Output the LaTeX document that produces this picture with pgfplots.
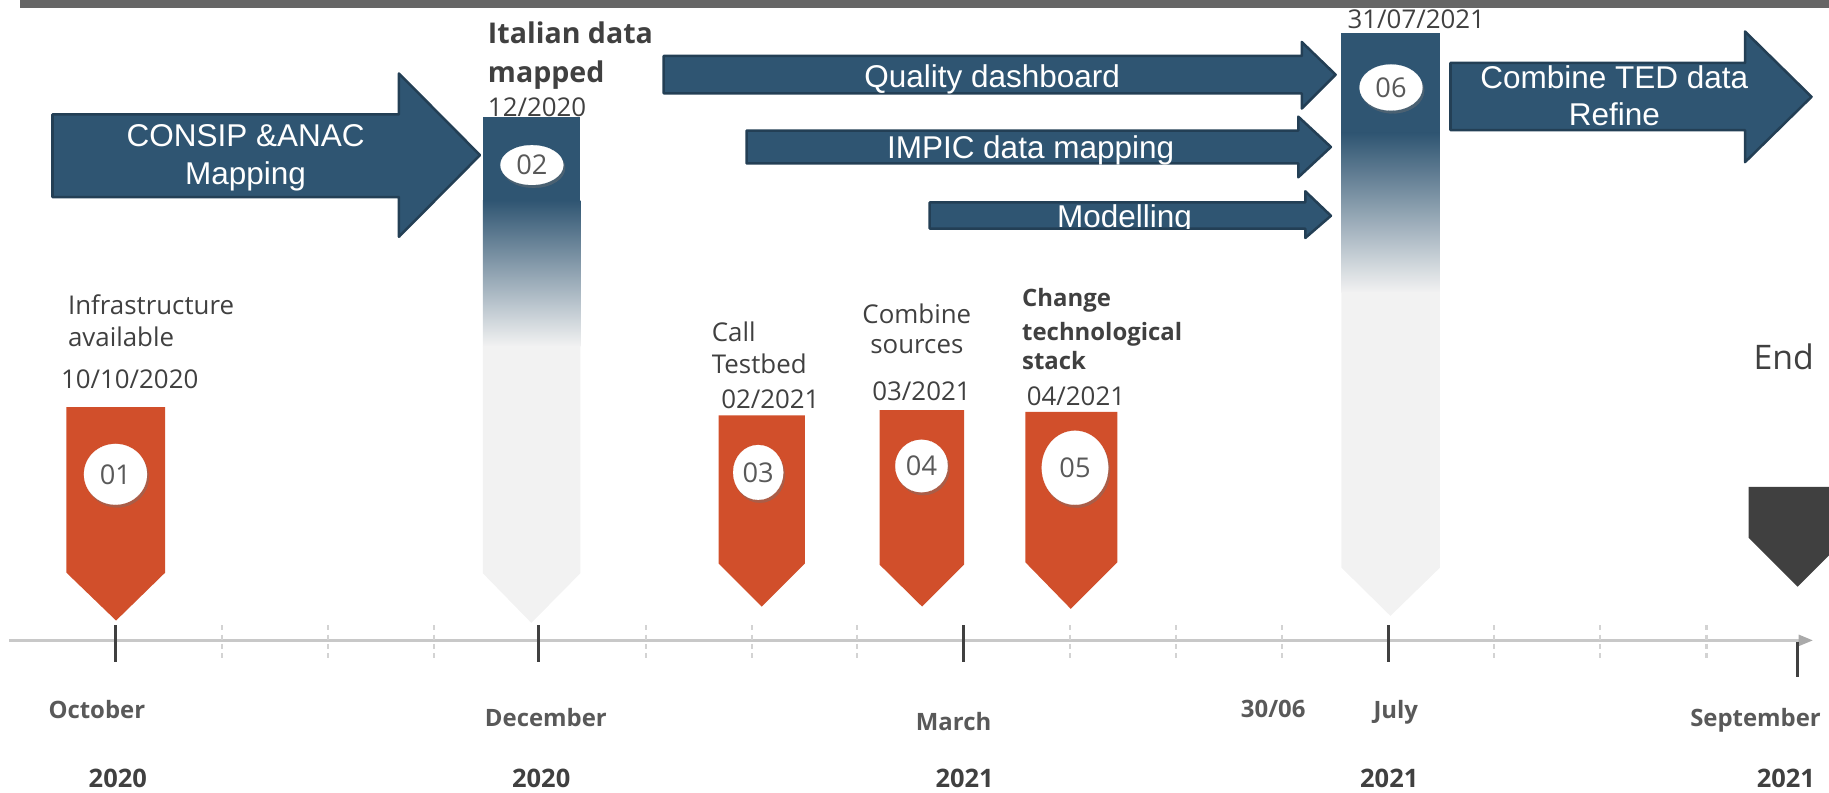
\documentclass[border=0pt]{standalone}
\usepackage{pgfplots}
\pgfplotsset{compat=1.18}
\usepackage{fontspec}
\setmainfont{Open Sans}
\newfontfamily\arialf{Liberation Sans}
\definecolor{cblue}{HTML}{2F5572}
\definecolor{cborder}{HTML}{233F55}
\definecolor{corange}{HTML}{D14F2B}
\definecolor{cgray}{HTML}{F2F2F2}
\definecolor{ctext}{HTML}{404040}
\definecolor{cmonth}{HTML}{595959}
\definecolor{cline}{HTML}{C8C8C8}
\definecolor{cminor}{HTML}{D3D3D3}
\definecolor{cbar}{HTML}{666666}
\definecolor{cend}{HTML}{404040}
\tikzset{
  lab/.style={inner sep=0pt, text=ctext, font=\fontsize{13.3}{16}\selectfont},
  labb/.style={inner sep=0pt, text=ctext, font=\fontsize{12.3}{15}\selectfont\bfseries},
  month/.style={inner sep=0pt, text=cmonth, anchor=base, font=\fontsize{12.3}{15}\selectfont\bfseries},
  year/.style={inner sep=0pt, text=ctext, anchor=base, font=\fontsize{13.1}{15}\selectfont\bfseries},
  arr/.style={inner sep=0pt, text=white, anchor=base, font=\fontsize{16.2}{19}\selectfont\arialf},
  num/.style={inner sep=0pt, text=cmonth, anchor=center, font=\fontsize{14}{16}\selectfont},
  arrow/.style={fill=cblue, draw=cborder, line width=1.3pt, line join=round},
}
\pgfplotsset{
  badge/.style n args={2}{only marks, color=white, mark=*, mark size=#1,
     mark options={draw=white, fill=white, line width=0.1pt, yscale=#2}},
  shadow/.style n args={2}{only marks, color=black!55, mark=*, mark size=#1,
     mark options={draw=black!55, fill=black!55, opacity=0.4, line width=0.1pt, yscale=#2}},
}
\begin{document}
\begin{tikzpicture}
\useasboundingbox (0,0) rectangle (940.8pt,407.4pt);
\begin{axis}[at={(0,0)}, anchor=south west, scale only axis,
  width=940.8pt, height=407.4pt, xmin=0, xmax=1568, ymin=0, ymax=679,
  y dir=reverse, hide axis, clip=false]
% top bar
\addplot[fill=cbar, draw=none] coordinates {(17,0) (1568,0) (1568,6.5) (17,6.5)} -- cycle;

% timeline
\addplot[cline, line width=1.4pt] coordinates {(8,549) (1545,549)};
\addplot[fill=cline!85!black, draw=none] coordinates {(1542,544) (1554,549) (1542,554)} -- cycle;
\pgfplotsinvokeforeach{190,281,372,554,644.5,735,917,1008,1099,1281,1372,1463}{
  \addplot[cminor, line width=1.1pt, dash pattern=on 2.6pt off 2.2pt] coordinates {(#1,536) (#1,566)};
}
\pgfplotsinvokeforeach{99,462,826,1190}{
  \addplot[ctext, line width=1.6pt] coordinates {(#1,536) (#1,567.5)};
}
\addplot[ctext, line width=1.6pt] coordinates {(1541,550) (1541,580)};

% arrows
\addplot[arrow] coordinates {(45,98) (342,98) (342,63) (411.5,133) (342,203) (342,169) (45,169)} -- cycle;
\addplot[arrow] coordinates {(569,48) (1116,48) (1116,36) (1145,64) (1116,93) (1116,80) (569,80)} -- cycle;
\addplot[arrow] coordinates {(640,112) (1113,112) (1113,100) (1141,126) (1113,152) (1113,140) (640,140)} -- cycle;
\addplot[arrow] coordinates {(797,173.5) (1119,173.5) (1119,164) (1141,185) (1119,204) (1119,196) (797,196)} -- cycle;
\addplot[arrow] coordinates {(1243.5,54) (1496,54) (1496,27) (1553,83) (1496,139) (1496,111.5) (1243.5,111.5)} -- cycle;

% column 02
\addplot[fill=cblue, draw=none] coordinates {(414,100.6) (497.5,100.6) (497.5,172) (414,172)} -- cycle;
\addplot[draw=none, top color=cblue, bottom color=cgray] coordinates {(414,171.5) (497.5,171.5) (497.5,297) (414,297)} -- cycle;
\addplot[fill=cgray, draw=none] coordinates {(414,296.5) (497.5,296.5) (497.5,491.5) (455.5,534) (414,491.5)} -- cycle;
% column 06
\addplot[fill=cblue, draw=none] coordinates {(1150,28) (1234.5,28) (1234.5,114.5) (1150,114.5)} -- cycle;
\addplot[draw=none, top color=cblue, bottom color=cgray] coordinates {(1150,114) (1234.5,114) (1234.5,251) (1150,251)} -- cycle;
\addplot[fill=cgray, draw=none] coordinates {(1150,250.5) (1234.5,250.5) (1234.5,486.6) (1192,528) (1150,486.6)} -- cycle;

% orange markers
\addplot[fill=corange, draw=none] coordinates {(57,349) (141.5,349) (141.5,491) (99.5,532) (57,491)} -- cycle;
\addplot[fill=corange, draw=none] coordinates {(616,356) (690,356) (690,483) (653,520) (616,483)} -- cycle;
\addplot[fill=corange, draw=none] coordinates {(754,351.5) (826.5,351.5) (826.5,484) (790.5,520) (754,484)} -- cycle;
\addplot[fill=corange, draw=none] coordinates {(879,353) (958,353) (958,482) (918,522) (879,482)} -- cycle;
% end marker
\addplot[fill=cend, draw=none] coordinates {(1499,417.5) (1568,417.5) (1568,476) (1541,503) (1499,461)} -- cycle;

% badges (shadow + white ellipse)
\addplot[shadow={16.2pt}{0.963}] coordinates {(100.5,409)};
\addplot[badge={16.2pt}{0.963}] coordinates {(99,406.6)};
\addplot[shadow={16.2pt}{0.63}] coordinates {(457.5,144)};
\addplot[badge={16.2pt}{0.63}] coordinates {(456,141.5)};
\addplot[shadow={12.9pt}{1.093}] coordinates {(651.5,407.5)};
\addplot[badge={12.9pt}{1.093}] coordinates {(650,405)};
\addplot[shadow={13.5pt}{1}] coordinates {(791.5,402)};
\addplot[badge={13.5pt}{1}] coordinates {(790,399.5)};
\addplot[shadow={17.1pt}{1.112}] coordinates {(923.1,403.5)};
\addplot[badge={17.1pt}{1.112}] coordinates {(921.6,401)};
\addplot[shadow={16.2pt}{0.73}] coordinates {(1194,77.5)};
\addplot[badge={16.2pt}{0.73}] coordinates {(1192.5,75)};

\coordinate (n1) at (axis cs:99,406.6);
\coordinate (n2) at (axis cs:456,141.5);
\coordinate (n3) at (axis cs:650,405);
\coordinate (n4) at (axis cs:790,399.5);
\coordinate (n5) at (axis cs:921.6,401);
\coordinate (n6) at (axis cs:1192.5,75);

% arrow texts
\node[arr] at (axis cs:210.5,126) {CONSIP \&ANAC};
\node[arr] at (axis cs:210.5,158.6) {Mapping};
\node[arr] at (axis cs:850.5,75) {Quality dashboard};
\node[arr] at (axis cs:883.5,135.7) {IMPIC data mapping};
\begin{scope}
\clip (axis cs:797,150) rectangle (axis cs:1141,196);
\node[arr] at (axis cs:964,195) {Modelling};
\end{scope}
\node[arr] at (axis cs:1384,75.7) {Combine TED data};
\node[arr] at (axis cs:1384,108) {Refine};

% event labels
\node[lab, anchor=base west] at (axis cs:58,270) {Infrastructure};
\node[lab, anchor=base west] at (axis cs:58,297) {available};
\node[lab, anchor=base west] at (axis cs:52,333) {10/10/2020};

\node[lab, anchor=base west, font=\fontsize{14.7}{17}\selectfont\bfseries] at (axis cs:418,37) {Italian data};
\node[lab, anchor=base west, font=\fontsize{14.7}{17}\selectfont\bfseries] at (axis cs:418,71) {mapped};
\node[lab, anchor=base west] at (axis cs:418,100) {12/2020};

\node[lab, anchor=base west] at (axis cs:610,293) {Call};
\node[lab, anchor=base west] at (axis cs:610,320) {Testbed};
\node[lab, anchor=base west] at (axis cs:618,350) {02/2021};

\node[lab, anchor=base] at (axis cs:786,277) {Combine};
\node[lab, anchor=base] at (axis cs:786,303) {sources};
\node[lab, anchor=base] at (axis cs:790,343.5) {03/2021};

\node[labb, anchor=base west] at (axis cs:876,263) {Change};
\node[labb, anchor=base west] at (axis cs:876,291.5) {technological};
\node[labb, anchor=base west] at (axis cs:876,317) {stack};
\node[lab, anchor=base west] at (axis cs:880,348) {04/2021};

\node[lab, anchor=base west] at (axis cs:1155,24.3) {31/07/2021};
\node[lab, anchor=base west, font=\fontsize{17.4}{20}\selectfont] at (axis cs:1503,317) {End};

% axis labels
\node[month] at (axis cs:83,615.6) {October};
\node[month] at (axis cs:468,623) {December};
\node[month] at (axis cs:817.5,626) {March};
\node[month] at (axis cs:1091.5,615) {30/06};
\node[month] at (axis cs:1196.6,615.6) {July};
\node[month] at (axis cs:1505,623) {September};
\node[year] at (axis cs:101,675) {2020};
\node[year] at (axis cs:464,675) {2020};
\node[year] at (axis cs:827,675) {2021};
\node[year] at (axis cs:1191,675) {2021};
\node[year] at (axis cs:1531,675) {2021};
\end{axis}
\node[num] at (n1) {01};
\node[num] at (n2) {02};
\node[num] at (n3) {03};
\node[num] at (n4) {04};
\node[num] at (n5) {05};
\node[num] at (n6) {06};
\end{tikzpicture}
\end{document}
